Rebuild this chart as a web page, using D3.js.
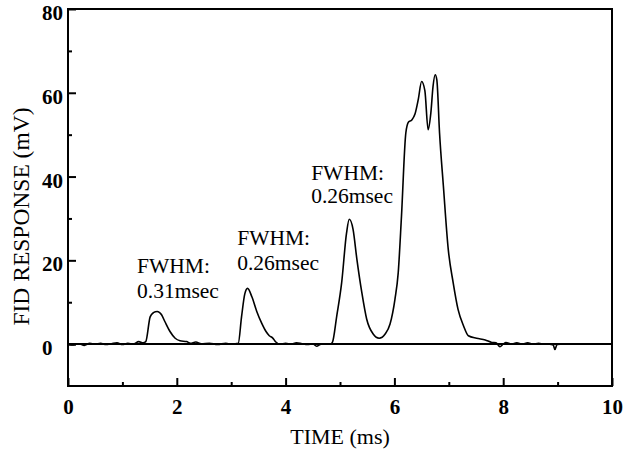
<!DOCTYPE html>
<html><head><meta charset="utf-8">
<script src="https://cdn.jsdelivr.net/npm/d3@7"></script>
<style>body{margin:0;background:#fff}svg{display:block}</style>
</head><body>
<svg id="c" width="626" height="450"></svg>
<script>
// ---- data ----
const timeMs = [0.0,0.1,0.2,0.3,0.4,0.5,0.6,0.7,0.8,0.9,1.0,1.1,1.2,1.3,1.38,
  1.43,1.51,1.57,1.64,1.72,1.78,1.875,1.97,2.06,2.18,
  2.25,2.35,2.45,2.6,2.75,2.9,3.0,3.08,
  3.13,3.19,3.25,3.30,3.38,3.47,3.56,3.64,3.70,3.76,3.82,3.90,
  4.0,4.1,4.2,4.3,4.4,4.5,4.57,4.65,4.75,4.82,
  4.86,4.94,5.03,5.12,5.17,5.24,5.31,5.40,5.49,5.61,5.72,5.83,5.92,6.01,
  6.07,6.13,6.21,6.26,6.32,6.38,6.44,6.50,6.56,6.62,6.67,6.71,6.75,6.78,6.83,6.90,6.99,7.08,7.17,7.27,7.36,
  7.51,7.67,7.79,7.87,7.94,8.0,8.05,8.15,8.25,8.35,8.45,8.55,8.65,8.75,8.85,8.92,8.95,8.99,9.05,9.2];
const responseMv = [0.0,-0.2,0.1,-0.3,0.2,0.0,0.2,-0.1,0.1,0.3,-0.1,0.2,0.0,0.6,0.3,
  0.6,6.5,7.5,7.8,7.0,5.4,3.0,1.4,0.8,0.6,
  0.2,0.5,0.1,0.2,-0.1,0.2,0.0,0.1,
  0.2,6.5,12.0,13.3,11.3,7.8,5.0,3.0,2.0,1.5,0.5,0.0,
  0.2,0.0,0.3,0.1,-0.1,0.1,-0.5,0.0,0.1,0.0,
  0.4,6.7,14.6,26.5,29.8,27.4,20.3,12.4,6.0,2.4,1.4,2.4,4.8,10.7,
  17.0,30.5,50.4,53.0,53.5,55.0,58.5,62.7,60.5,51.2,55.2,61.5,64.3,63.1,50.4,37.8,22.6,14.7,8.3,4.4,2.0,
  1.4,1.0,0.4,0.3,-0.6,0.0,0.4,0.0,0.3,0.0,0.3,0.0,0.2,0.0,0.0,-0.2,-1.3,-0.1,0.0,0.0];
const xTicks = [0,2,4,6,8,10];
const xMinor = [1,3,5,7,9];
const yTicks = [0,20,40,60,80];
const yMinor = [10,30,50,70];
const notes = [
  {lines:["FWHM:","0.31msec"], t:1.27, v:[16.9,10.9]},
  {lines:["FWHM:","0.26msec"], t:3.11, v:[23.6,17.6]},
  {lines:["FWHM:","0.26msec"], t:4.47, v:[39.1,33.8]}
];

// ---- chart ----
const svg = d3.select("#c");
const L=68, R=612, T=9, B=386;
const x = d3.scaleLinear().domain([0,10]).range([L,R]);
const y = d3.scaleLinear().domain([-10,80]).range([B,T]);
const serif = "'Liberation Serif','Times New Roman',serif";

// zero line
svg.append("line").attr("x1",L).attr("x2",R).attr("y1",y(0)).attr("y2",y(0))
  .attr("stroke","#000").attr("stroke-width",2);

// trace
const pts = timeMs.map((t,i)=>[t,responseMv[i]]);
svg.append("path").datum(pts)
  .attr("d", d3.line().x(d=>x(d[0])).y(d=>y(d[1])).curve(d3.curveMonotoneX))
  .attr("fill","none").attr("stroke","#000").attr("stroke-width",1.6);

// frame
svg.append("rect").attr("x",L).attr("y",T).attr("width",R-L).attr("height",B-T)
  .attr("fill","none").attr("stroke","#000").attr("stroke-width",2);

// axes (ticks inward)
const yAx = svg.append("g").attr("transform",`translate(${L},0)`)
  .call(d3.axisLeft(y).tickValues(yTicks).tickSize(-8).tickPadding(12).tickFormat(d3.format("d")));
const yAxm = svg.append("g").attr("transform",`translate(${L},0)`)
  .call(d3.axisLeft(y).tickValues(yMinor).tickSize(-4).tickFormat(""));
const xAx = svg.append("g").attr("transform",`translate(0,${B})`)
  .call(d3.axisBottom(x).tickValues(xTicks).tickSize(-8).tickPadding(13).tickFormat(d3.format("d")));
const xAxm = svg.append("g").attr("transform",`translate(0,${B})`)
  .call(d3.axisBottom(x).tickValues(xMinor).tickSize(-4).tickFormat(""));
[yAx,yAxm,xAx,xAxm].forEach(g=>{
  g.select(".domain").remove();
  g.selectAll(".tick line").attr("stroke","#000").attr("stroke-width",2);
  g.selectAll(".tick text").attr("fill","#000").style("font-family",serif)
    .style("font-size","21px").style("font-weight","bold");
});
yAx.selectAll(".tick text").attr("text-anchor","start").attr("x",42-L).attr("dy","0.5em");

// axis titles
svg.append("text").attr("x",x(5)).attr("y",444).attr("text-anchor","middle")
  .style("font-family",serif).style("font-size","22px").text("TIME (ms)");
svg.append("text").attr("transform",`translate(29,${(T+B)/2+19}) rotate(-90)`)
  .attr("text-anchor","middle").style("font-family",serif).style("font-size","23.5px")
  .text("FID RESPONSE (mV)");

// annotations
notes.forEach(n=>{
  n.lines.forEach((s,i)=>{
    svg.append("text").attr("x",x(n.t)).attr("y",y(n.v[i]))
      .style("font-family",serif).style("font-size","21.5px").text(s);
  });
});
</script>
</body></html>
